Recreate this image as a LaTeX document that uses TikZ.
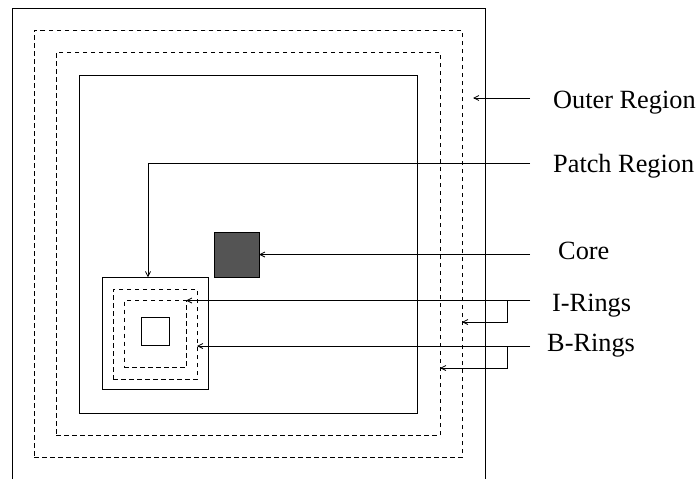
\documentclass[tikz,border=0pt]{standalone}
\usepackage{fontspec}
\setmainfont{Liberation Serif}
\usetikzlibrary{arrows.meta}
\definecolor{nucleo}{gray}{0.33}

\begin{document}
\begin{tikzpicture}[
	x=1pt, y=-1pt,
	bordo/.style={line width=0.8pt, line join=miter, black},
	tratto/.style={line width=0.8pt, black, dash pattern=on 4.5pt off 3.5pt},
	riq/.style={draw, inner sep=0pt, outer sep=0pt},
	freccia/.style={line width=0.8pt, black, -{Straight Barb[length=5pt,width=5pt]}},
	etich/.style={anchor=base west, inner sep=0pt, font=\fontsize{26.3}{30}\selectfont},
	]
	\useasboundingbox (0,0) rectangle (700,479);
	
	%% =========================================================
	%% regione esterna e anelli di bordo
	%% =========================================================
	\draw[bordo](12,479)--(12,8)--(485,8)--(485,479);
	\node[riq, tratto, minimum width=428pt, minimum height=427pt](anelloEst)at(248,243.5){};
	\node[riq, tratto, minimum width=384pt, minimum height=383pt](anelloInt)at(248,243.5){};
	\node[riq, bordo,  minimum width=338pt, minimum height=338pt](patchreg)at(248,244){};
	
	%% =========================================================
	%% patch con i suoi anelli, e nucleo
	%% =========================================================
	\node[riq, bordo,  minimum width=106pt, minimum height=112pt](patch)at(155,333.3){};
	\node[riq, tratto, minimum width=84pt,  minimum height=90pt](anB)at(155,334){};
	\node[riq, tratto, minimum width=62pt,  minimum height=67pt](anI)at(155,334.2){};
	\node[riq, bordo,  minimum width=28pt,  minimum height=28pt](cella)at(155,331){};
	\node[riq, bordo, fill=nucleo, minimum width=45pt, minimum height=45pt](core)at(236.5,254.5){};
	
	%% =========================================================
	%% etichette
	%% =========================================================
	\node[etich](lOuter)at(553,108.3){Outer Region};
	\node[etich](lPatch)at(553,172.3){Patch Region};
	\node[etich](lCore)at(558,259){Core};
	\node[etich](lIR)at(552,311.7){I-Rings};
	\node[etich](lBR)at(547,351.7){B-Rings};
	
	%% =========================================================
	%% frecce
	%% =========================================================
	\coordinate (sOuter) at (530,98);
	\coordinate (tOuter) at (473,98);
	\draw[freccia](sOuter)--(tOuter);
	%% patch region: a gomito verso il lato superiore della patch
	\coordinate (sPatch) at (530,163);
	\coordinate (kPatch) at (148,163);
	\draw[freccia](sPatch)--(kPatch)--(kPatch |- patch.north);
	%% nucleo
	\coordinate (sCore) at (530,254.5);
	\draw[freccia](sCore)--(core.east);
	%% anelli I
	\coordinate (sIR) at (530,300.5);
	\coordinate (kIR) at (507,300.5);
	\coordinate (gIR) at (507,322);
	\draw[freccia](sIR)--(sIR -| anI.east);
	\draw[freccia](kIR)--(gIR)--(gIR -| anelloEst.east);
	%% anelli B
	\coordinate (sBR) at (530,346);
	\coordinate (kBR) at (507,346);
	\coordinate (gBR) at (507,368);
	\draw[freccia](sBR)--(sBR -| anB.east);
	\draw[freccia](kBR)--(gBR)--(gBR -| anelloInt.east);
	
\end{tikzpicture}
\end{document}
